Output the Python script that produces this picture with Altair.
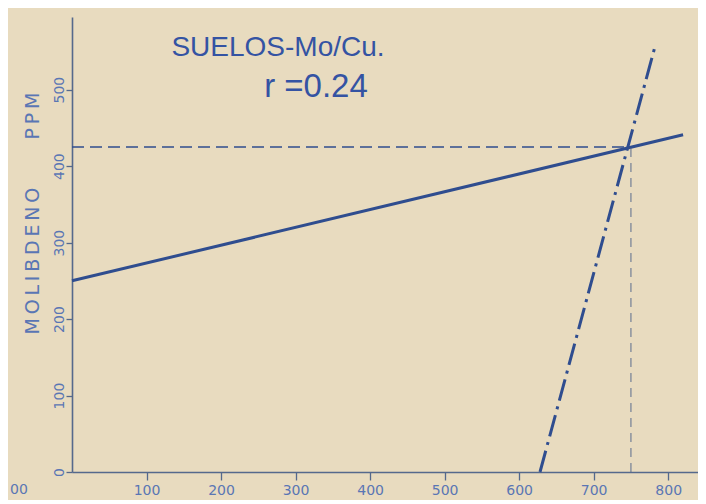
import altair as alt
import pandas as pd

# Regression lines (Cu ppm on x, Mo ppm on y)
solid_x = [0, 820]
solid_y = [250, 441]
dashdot_x = [628, 783]
dashdot_y = [0, 559]
cross_x = 750
cross_y = 425
x_ticks = [100, 200, 300, 400, 500, 600, 700, 800]
y_ticks = [0, 100, 200, 300, 400, 500]
title_lines = ["SUELOS-Mo/Cu.", "r =0.24"]
y_title = ("M\u2009O\u2009L\u2009I\u2009B\u2009D\u2009E\u2009N\u2009O"
           "\u00a0\u00a0\u00a0\u00a0\u00a0\u00a0\u00a0\u00a0P\u2009P\u2009M")

LINE = "#2f4d8f"
TEXT = "#5a76b4"
TITLE = "#3453a3"
AXIS = "#55698c"
BG = "#e8dbbf"

xs = alt.Scale(domain=[0, 840], nice=False, zero=False)
ys = alt.Scale(domain=[0, 595], nice=False, zero=False)

solid = pd.DataFrame({"x": solid_x, "y": solid_y})
dashdot = pd.DataFrame({"x": dashdot_x, "y": dashdot_y})
hline = pd.DataFrame({"x": [0], "x2": [cross_x], "y": [cross_y]})
vline = pd.DataFrame({"x": [cross_x], "y": [0], "y2": [cross_y]})

xaxis = alt.Axis(values=x_ticks, title=None, grid=False, domainColor=AXIS,
                 domainWidth=1.6, tickColor=AXIS, tickSize=8, tickWidth=1.3,
                 labelColor=TEXT, labelFont="DejaVu Sans", labelFontSize=14,
                 labelPadding=3)
yaxis = alt.Axis(values=y_ticks, title=y_title, grid=False, domainColor=AXIS,
                 domainWidth=1.6, tickColor=AXIS, tickSize=6, tickWidth=1.3,
                 labelColor=TEXT, labelFont="DejaVu Sans", labelFontSize=14,
                 labelAngle=-90, labelAlign="center", labelBaseline="alphabetic",
                 labelPadding=3,
                 titleColor=TEXT, titleFont="DejaVu Sans", titleFontSize=19,
                 titleFontWeight="normal", titleX=-40, titleY=196, titleAngle=-90,
                 titleAlign="center", titleBaseline="middle")

base = alt.Chart(solid).mark_line(color=LINE, strokeWidth=3).encode(
    x=alt.X("x:Q", scale=xs, axis=xaxis),
    y=alt.Y("y:Q", scale=ys, axis=yaxis),
)

dd = alt.Chart(dashdot).mark_line(color=LINE, strokeWidth=3, strokeDash=[22, 6, 3, 6]).encode(
    x=alt.X("x:Q", scale=xs), y=alt.Y("y:Q", scale=ys))

h = alt.Chart(hline).mark_rule(color=LINE, strokeWidth=1.5, strokeDash=[12, 6]).encode(
    x=alt.X("x:Q", scale=xs), x2="x2:Q", y=alt.Y("y:Q", scale=ys))

v = alt.Chart(vline).mark_rule(color=AXIS, strokeWidth=1.2, strokeDash=[9, 6], opacity=0.8).encode(
    x=alt.X("x:Q", scale=xs), y=alt.Y("y:Q", scale=ys), y2="y2:Q")

t1 = alt.Chart(pd.DataFrame({"t": [title_lines[0]]})).mark_text(
    font="Liberation Sans", fontSize=28, color=TITLE, align="center", baseline="middle"
).encode(text="t:N", x=alt.value(206), y=alt.value(31))
t2 = alt.Chart(pd.DataFrame({"t": [title_lines[1]]})).mark_text(
    font="Liberation Sans", fontSize=33, color=TITLE, align="center", baseline="middle"
).encode(text="t:N", x=alt.value(244), y=alt.value(70))
frag = alt.Chart(pd.DataFrame({"t": ["00"]})).mark_text(
    font="DejaVu Sans", fontSize=14, color=TEXT, align="center", baseline="middle"
).encode(text="t:N", x=alt.value(-53), y=alt.value(473))

chart = alt.layer(base, dd, h, v, t1, t2, frag).properties(
    width=626, height=455,
    autosize=alt.AutoSizeParams(type="none"),
    padding={"left": 64, "top": 9, "right": 0, "bottom": 28},
    background=BG,
).configure_view(stroke=None)

chart.save("out.html", embed_options={"renderer": "svg", "actions": False})
